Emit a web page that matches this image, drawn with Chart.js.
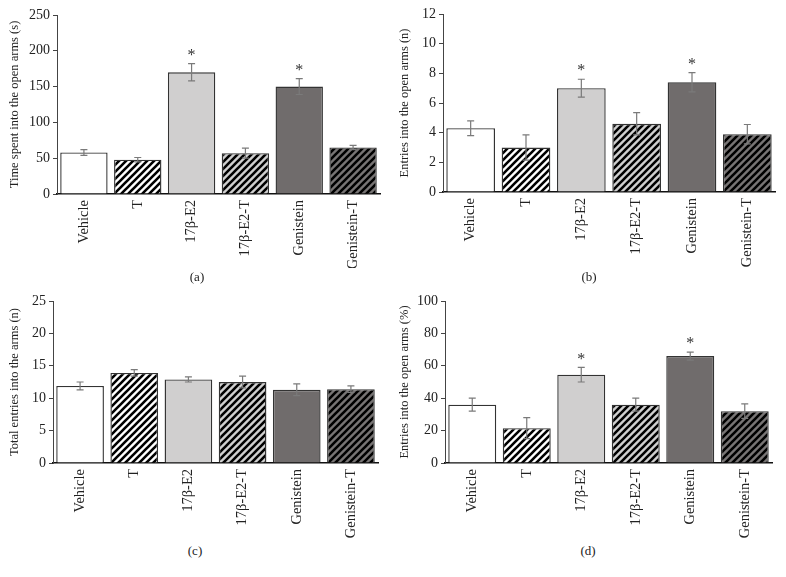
<!DOCTYPE html>
<html>
<head>
<meta charset="utf-8">
<script src="https://cdn.jsdelivr.net/npm/chart.js@4.4.1/dist/chart.umd.min.js"></script>
<style>
    body { margin: 0; background: #fff; }
    #wrap { position: relative; width: 786px; height: 577px; overflow: hidden; background: #fff; }
    .panel { position: absolute; }
    .cap { position: absolute; font-family: 'Liberation Serif', serif; font-size: 13px; color: #222; transform: translateX(-50%); }
</style>
</head>
<body>
<div id="wrap">
    <div class="panel" style="left:0;top:0"><canvas id="chartA" width="390" height="268"></canvas></div>
    <div class="panel" style="left:390px;top:0"><canvas id="chartB" width="396" height="268"></canvas></div>
    <div class="panel" style="left:0;top:280px"><canvas id="chartC" width="390" height="262"></canvas></div>
    <div class="panel" style="left:390px;top:280px"><canvas id="chartD" width="396" height="262"></canvas></div>
    <div class="cap" style="left:197px;top:269px">(a)</div>
    <div class="cap" style="left:589px;top:269px">(b)</div>
    <div class="cap" style="left:195px;top:543px">(c)</div>
    <div class="cap" style="left:588px;top:543px">(d)</div>
</div>
<script>
    var groups = ['Vehicle', 'T', '17β-E2', '17β-E2-T', 'Genistein', 'Genistein-T'];

    // (a) time spent into the open arms (s)
    var timeOpen = [58, 48, 170, 57, 150, 65];
    var timeOpenErr = [4, 3, 12, 7, 11, 3];
    // (b) entries into the open arms (n)
    var entriesOpen = [4.3, 3.0, 7.0, 4.6, 7.4, 3.9];
    var entriesOpenErr = [0.5, 0.85, 0.6, 0.75, 0.65, 0.65];
    // (c) total entries into the arms (n)
    var totalEntries = [11.9, 13.9, 12.9, 12.5, 11.3, 11.4];
    var totalEntriesErr = [0.6, 0.5, 0.4, 0.9, 0.9, 0.5];
    // (d) entries into the open arms (%)
    var pctOpen = [36, 21.5, 54.5, 36, 66, 32];
    var pctOpenErr = [4, 6.5, 4.5, 4, 2.5, 4.5];

    var starsAB = [2, 4];
    var starsD = [2, 4];

    var fontFam = "'Liberation Serif', 'Times New Roman', serif";

    function stripes(bg) {
        var p = 7;
        var c = document.createElement('canvas');
        c.width = p; c.height = p;
        var g = c.getContext('2d');
        g.fillStyle = bg;
        g.fillRect(0, 0, p, p);
        g.strokeStyle = '#000';
        g.lineWidth = 2.6;
        g.beginPath();
        g.moveTo(0, p); g.lineTo(p, 0);
        g.moveTo(-p / 2, p / 2); g.lineTo(p / 2, -p / 2);
        g.moveTo(p / 2, p * 1.5); g.lineTo(p * 1.5, p / 2);
        g.stroke();
        return g.createPattern(c, 'repeat');
    }

    var barColors = ['#ffffff', stripes('#ffffff'), '#d0cfcf', stripes('#cfcfcf'), '#706c6c', stripes('#777474')];

    var errorBars = {
        id: 'errorBars',
        afterDatasetsDraw: function (chart, args, opts) {
            var ctx = chart.ctx;
            var y = chart.scales.y;
            var meta = chart.getDatasetMeta(0);
            var vals = chart.data.datasets[0].data;
            ctx.save();
            ctx.strokeStyle = '#7a7a7a';
            ctx.lineWidth = 1.2;
            meta.data.forEach(function (bar, i) {
                var top = y.getPixelForValue(vals[i] + opts.err[i]);
                var bot = y.getPixelForValue(vals[i] - opts.err[i]);
                ctx.beginPath();
                ctx.moveTo(bar.x, top); ctx.lineTo(bar.x, bot);
                ctx.moveTo(bar.x - 3.5, top); ctx.lineTo(bar.x + 3.5, top);
                ctx.moveTo(bar.x - 3.5, bot); ctx.lineTo(bar.x + 3.5, bot);
                ctx.stroke();
                if (opts.stars.indexOf(i) >= 0) {
                    ctx.fillStyle = '#333';
                    ctx.font = '16px ' + fontFam;
                    ctx.textAlign = 'center';
                    ctx.textBaseline = 'middle';
                    ctx.fillText('*', bar.x, top - 8);
                }
            });
            ctx.restore();
        }
    };

    function drawPanel(id, values, err, stars, yMax, yStep, title, yWidth, pad, xBottom) {
        var cv = document.getElementById(id);
        var h = cv.height;
        return new Chart(cv.getContext('2d'), {
            type: 'bar',
            data: {
                labels: groups,
                datasets: [{
                    data: values,
                    backgroundColor: barColors,
                    borderColor: '#333',
                    borderWidth: 1.4,
                    barPercentage: 0.88,
                    categoryPercentage: 1
                }]
            },
            plugins: [errorBars],
            options: {
                responsive: false,
                animation: false,
                layout: { padding: pad },
                plugins: {
                    legend: { display: false },
                    tooltip: { enabled: false },
                    errorBars: { err: err, stars: stars }
                },
                scales: {
                    x: {
                        afterFit: function (s) { s.height = h - xBottom; },
                        grid: { display: true, drawOnChartArea: false, drawTicks: false },
                        border: { display: true, color: '#111', width: 1.5 },
                        ticks: {
                            autoSkip: false,
                            minRotation: 90,
                            maxRotation: 90,
                            padding: 6,
                            color: '#222',
                            font: { family: fontFam, size: 14.5 }
                        }
                    },
                    y: {
                        min: 0,
                        max: yMax,
                        afterFit: function (s) { s.width = yWidth; },
                        grid: { display: true, drawOnChartArea: false, drawTicks: true, tickLength: 4, color: '#444' },
                        border: { display: true, color: '#444', width: 1 },
                        ticks: {
                            stepSize: yStep,
                            padding: 3,
                            color: '#222',
                            font: { family: fontFam, size: 14 }
                        },
                        title: {
                            display: true,
                            text: title,
                            color: '#222',
                            padding: { top: 7, bottom: 2 },
                            font: { family: fontFam, size: 12.5 }
                        }
                    }
                }
            }
        });
    }

    drawPanel('chartA', timeOpen, timeOpenErr, starsAB, 250, 50, 'Time spent into the open arms (s)', 57, { top: 15, right: 10, left: 0, bottom: 0 }, 194);
    drawPanel('chartB', entriesOpen, entriesOpenErr, starsAB, 12, 2, 'Entries into the open arms (n)', 53, { top: 14, right: 11, left: 0, bottom: 0 }, 192);
    drawPanel('chartC', totalEntries, totalEntriesErr, [], 25, 5, 'Total entries into the arms (n)', 53, { top: 21, right: 12, left: 0, bottom: 0 }, 183);
    drawPanel('chartD', pctOpen, pctOpenErr, starsD, 100, 20, 'Entries into the open arms (%)', 55, { top: 21, right: 14, left: 0, bottom: 0 }, 183);
</script>
</body>
</html>
